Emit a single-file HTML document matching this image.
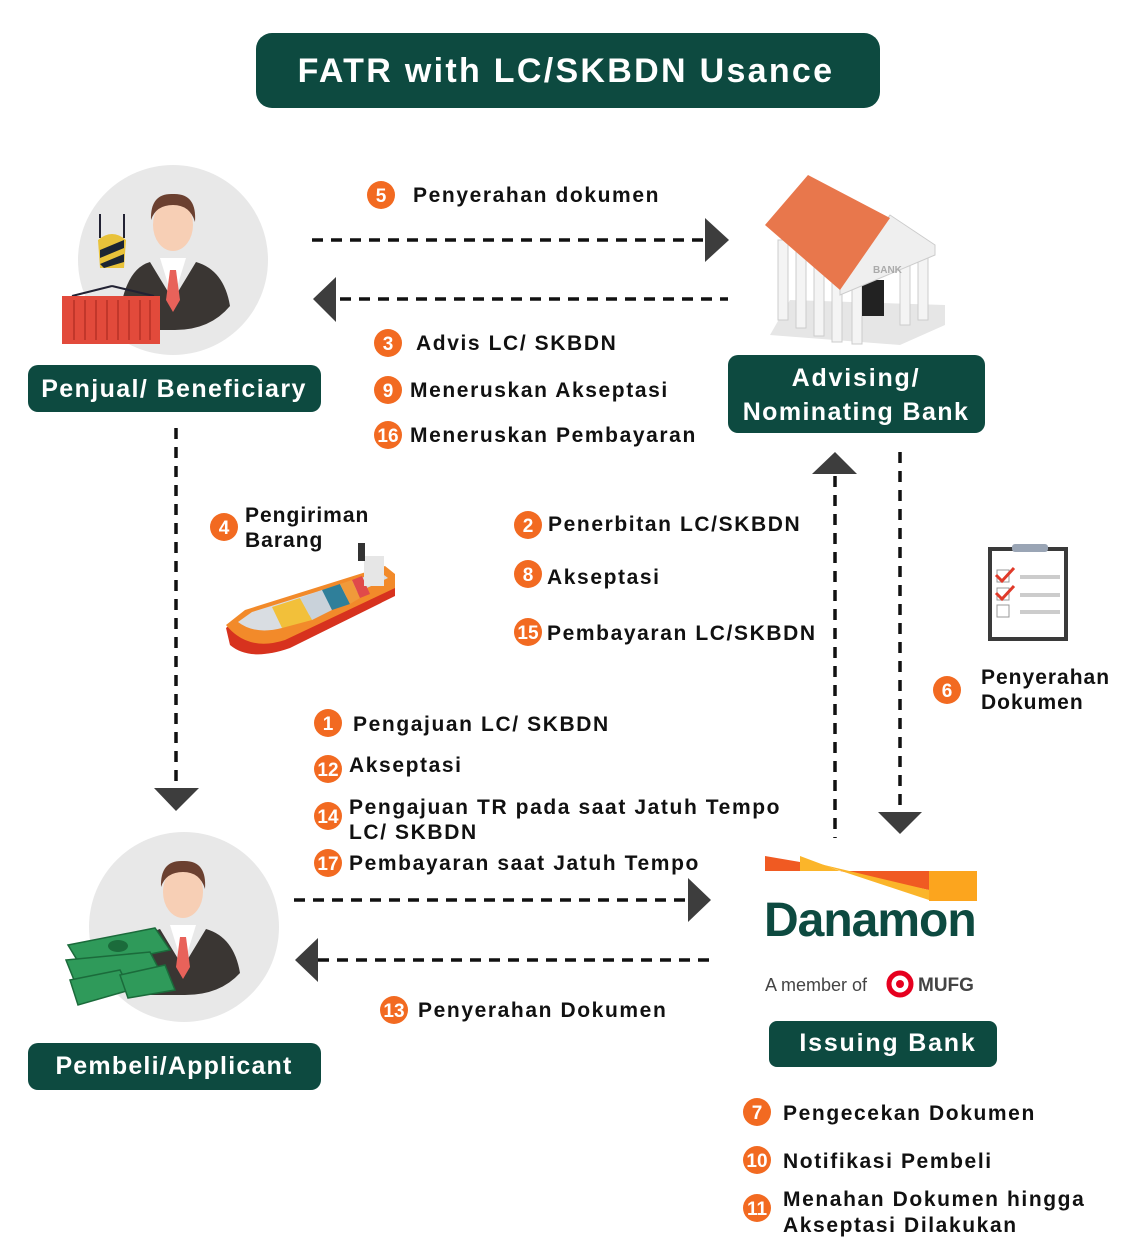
<!DOCTYPE html>
<html><head><meta charset="utf-8"><style>
html,body{margin:0;padding:0;background:#fff}
svg{display:block}
text{font-family:"Liberation Sans",sans-serif;font-weight:bold}
.t{font-size:21px;fill:#111;letter-spacing:1.6px}
.n{font-size:19px;fill:#fff;text-anchor:middle;letter-spacing:0}
.w{fill:#fff;letter-spacing:1.8px}
.d{stroke:#111;stroke-width:3.5;stroke-dasharray:11 8;fill:none}
</style></head><body>
<svg width="1146" height="1250" viewBox="0 0 1146 1250" xmlns="http://www.w3.org/2000/svg">
<rect x="256" y="33" width="624" height="75" rx="16" fill="#0d4a40"/>
<text x="566" y="82" class="w" font-size="34" text-anchor="middle" style="letter-spacing:2.3px">FATR with LC/SKBDN Usance</text>

<circle cx="173" cy="260" r="95" fill="#e8e8e8"/>
<path d="M118 330 Q122 270 150 262 L173 300 L196 262 Q224 270 230 306 Q210 330 175 330 Z" fill="#3a3633"/>
<path d="M160 258 L173 300 L186 258 Z" fill="#fff"/>
<path d="M170 270 L176 270 L180 300 L173 312 L166 300 Z" fill="#e8625a"/>
<ellipse cx="173" cy="225" rx="20" ry="26" fill="#f7cfb5"/>
<path d="M151 220 Q150 193 173 194 Q197 193 195 222 Q190 205 173 205 Q156 205 151 220Z" fill="#6b4030"/>
<line x1="100" y1="214" x2="100" y2="238" stroke="#223" stroke-width="2"/>
<line x1="124" y1="214" x2="124" y2="238" stroke="#223" stroke-width="2"/>
<path d="M98 240 Q112 228 126 240 L124 268 L100 268 Z" fill="#e8c23a"/>
<path d="M100 250 L124 240 L124 248 L100 258Z M100 264 L124 254 L124 262 L104 268Z" fill="#1b2433"/>
<line x1="72" y1="296" x2="112" y2="286" stroke="#223" stroke-width="2"/>
<line x1="112" y1="286" x2="154" y2="296" stroke="#223" stroke-width="2"/>
<rect x="62" y="296" width="98" height="48" fill="#e24a3b"/>
<g stroke="#c2372b" stroke-width="2"><line x1="74" y1="300" x2="74" y2="340"/><line x1="85" y1="300" x2="85" y2="340"/><line x1="96" y1="300" x2="96" y2="340"/><line x1="107" y1="300" x2="107" y2="340"/><line x1="118" y1="300" x2="118" y2="340"/><line x1="129" y1="300" x2="129" y2="340"/><line x1="140" y1="300" x2="140" y2="340"/><line x1="150" y1="300" x2="150" y2="340"/></g>
<rect x="28" y="365" width="293" height="47" rx="10" fill="#0d4a40"/>
<text x="174" y="397" class="w" font-size="25" text-anchor="middle" style="letter-spacing:1.4px">Penjual/ Beneficiary</text>

<line x1="312" y1="240" x2="705" y2="240" class="d"/>
<polygon points="705,218 729,240 705,262" fill="#3d3d3d"/>
<line x1="340" y1="299" x2="728" y2="299" class="d"/>
<polygon points="336,277 313,299 336,322" fill="#3d3d3d"/>
<circle cx="381" cy="195" r="14" fill="#f26a21"/><text x="381" y="202" class="n">5</text>
<text x="413" y="202" class="t">Penyerahan dokumen</text>
<circle cx="388" cy="343" r="14" fill="#f26a21"/><text x="388" y="350" class="n">3</text>
<text x="416" y="350" class="t">Advis LC/ SKBDN</text>
<circle cx="388" cy="390" r="14" fill="#f26a21"/><text x="388" y="397" class="n">9</text>
<text x="410" y="397" class="t">Meneruskan Akseptasi</text>
<circle cx="388" cy="435" r="14" fill="#f26a21"/><text x="388" y="442" class="n" font-size="17">16</text>
<text x="410" y="442" class="t">Meneruskan Pembayaran</text>

<polygon points="770,335 900,345 945,325 945,305 790,300" fill="#e6e6e6"/>
<g fill="#f4f4f4" stroke="#ccc"><rect x="778" y="240" width="10" height="80"/><rect x="796" y="248" width="10" height="80"/><rect x="814" y="256" width="10" height="80"/><rect x="832" y="262" width="10" height="80"/><rect x="852" y="268" width="10" height="76"/><rect x="900" y="255" width="10" height="70"/><rect x="918" y="250" width="10" height="70"/></g>
<rect x="862" y="280" width="22" height="36" fill="#222"/>
<polygon points="840,285 890,215 935,245 935,255 840,295" fill="#efefef" stroke="#ccc"/>
<polygon points="765,225 808,175 890,218 840,290" fill="#e8774c"/>
<text x="873" y="273" font-size="10" fill="#aaa">BANK</text>
<rect x="728" y="355" width="257" height="78" rx="10" fill="#0d4a40"/>
<text x="856" y="386" class="w" font-size="25" text-anchor="middle">Advising/</text>
<text x="856" y="420" class="w" font-size="25" text-anchor="middle" style="letter-spacing:1.4px">Nominating Bank</text>

<line x1="176" y1="428" x2="176" y2="787" class="d"/>
<polygon points="154,788 199,788 176,811" fill="#3d3d3d"/>
<line x1="835" y1="476" x2="835" y2="838" class="d"/>
<polygon points="812,474 857,474 835,452" fill="#3d3d3d"/>
<line x1="900" y1="452" x2="900" y2="812" class="d"/>
<polygon points="878,812 922,812 900,834" fill="#3d3d3d"/>

<circle cx="224" cy="527" r="14" fill="#f26a21"/><text x="224" y="534" class="n">4</text>
<text x="245" y="522" class="t" style="letter-spacing:1px">Pengiriman</text>
<text x="245" y="547" class="t" style="letter-spacing:1px">Barang</text>
<!-- ship -->
<path d="M226 628 L245 612 L385 568 L395 578 L395 596 L290 648 Q250 662 230 645Z" fill="#d7321e"/>
<path d="M226 625 L245 610 L385 566 L395 574 L395 588 L285 640 Q248 652 226 625Z" fill="#f28a2a"/>
<path d="M238 622 L252 612 L380 572 L388 578 L282 628 Q255 635 238 622Z" fill="#d9dde2"/>
<polygon points="272,607 300,598 312,620 282,628" fill="#f2c03a"/>
<polygon points="300,598 322,590 332,610 312,620" fill="#c9d2da"/>
<polygon points="322,590 340,584 350,604 332,610" fill="#2f7f9a"/>
<polygon points="340,584 352,580 360,598 350,604" fill="#f09a3a"/>
<polygon points="352,580 362,576 370,594 360,598" fill="#e04a4a"/>
<rect x="364" y="556" width="20" height="30" fill="#e6e6e6"/>
<rect x="358" y="543" width="7" height="18" fill="#333"/>

<circle cx="528" cy="525" r="14" fill="#f26a21"/><text x="528" y="532" class="n">2</text>
<text x="548" y="531" class="t">Penerbitan LC/SKBDN</text>
<circle cx="528" cy="574" r="14" fill="#f26a21"/><text x="528" y="581" class="n">8</text>
<text x="547" y="584" class="t">Akseptasi</text>
<circle cx="528" cy="632" r="14" fill="#f26a21"/><text x="528" y="639" class="n" font-size="17">15</text>
<text x="547" y="640" class="t">Pembayaran LC/SKBDN</text>

<rect x="988" y="547" width="80" height="94" fill="#3a3a3a"/>
<rect x="992" y="551" width="72" height="86" fill="#fff"/>
<rect x="1012" y="544" width="36" height="8" rx="3" fill="#9aa5b5"/>
<g stroke="#ccc" stroke-width="4"><line x1="1020" y1="577" x2="1060" y2="577"/><line x1="1020" y1="595" x2="1060" y2="595"/><line x1="1020" y1="612" x2="1060" y2="612"/></g>
<rect x="997" y="570" width="12" height="12" fill="none" stroke="#999"/><rect x="997" y="588" width="12" height="12" fill="none" stroke="#999"/><rect x="997" y="605" width="12" height="12" fill="none" stroke="#999"/>
<path d="M996 575 L1002 581 L1014 568 M996 593 L1002 599 L1014 586" stroke="#e03a2a" stroke-width="3" fill="none"/>
<circle cx="947" cy="690" r="14" fill="#f26a21"/><text x="947" y="697" class="n">6</text>
<text x="981" y="684" class="t" style="letter-spacing:1px">Penyerahan</text>
<text x="981" y="709" class="t" style="letter-spacing:1px">Dokumen</text>

<circle cx="328" cy="723" r="14" fill="#f26a21"/><text x="328" y="730" class="n">1</text>
<text x="353" y="731" class="t">Pengajuan LC/ SKBDN</text>
<circle cx="328" cy="769" r="14" fill="#f26a21"/><text x="328" y="776" class="n" font-size="17">12</text>
<text x="349" y="772" class="t">Akseptasi</text>
<circle cx="328" cy="816" r="14" fill="#f26a21"/><text x="328" y="823" class="n" font-size="17">14</text>
<text x="349" y="814" class="t">Pengajuan TR pada saat Jatuh Tempo</text>
<text x="349" y="839" class="t">LC/ SKBDN</text>
<circle cx="328" cy="863" r="14" fill="#f26a21"/><text x="328" y="870" class="n" font-size="17">17</text>
<text x="349" y="870" class="t">Pembayaran saat Jatuh Tempo</text>

<circle cx="184" cy="927" r="95" fill="#e8e8e8"/>
<path d="M128 995 Q132 937 160 929 L183 967 L206 929 Q234 937 240 973 Q220 995 185 995 Z" fill="#3a3633"/>
<path d="M170 925 L183 967 L196 925 Z" fill="#fff"/>
<path d="M180 937 L186 937 L190 967 L183 979 L176 967 Z" fill="#e8625a"/>
<ellipse cx="183" cy="892" rx="20" ry="26" fill="#f7cfb5"/>
<path d="M161 887 Q160 860 183 861 Q207 860 205 889 Q200 872 183 872 Q166 872 161 887Z" fill="#6b4030"/>
<g fill="#2f9a5a" stroke="#1b6b3b" stroke-width="1.5">
<polygon points="68,945 155,928 170,950 82,968"/>
<polygon points="66,960 150,952 162,975 76,985"/>
<polygon points="70,980 120,970 130,990 78,1005"/>
<polygon points="120,975 165,965 175,990 128,998"/>
</g>
<ellipse cx="118" cy="946" rx="10" ry="6" fill="#1b6b3b"/>
<rect x="28" y="1043" width="293" height="47" rx="10" fill="#0d4a40"/>
<text x="174" y="1074" class="w" font-size="25" text-anchor="middle" style="letter-spacing:1.2px">Pembeli/Applicant</text>

<line x1="294" y1="900" x2="688" y2="900" class="d"/>
<polygon points="688,878 711,900 688,922" fill="#3d3d3d"/>
<line x1="318" y1="960" x2="710" y2="960" class="d"/>
<polygon points="318,938 295,960 318,982" fill="#3d3d3d"/>
<circle cx="394" cy="1010" r="14" fill="#f26a21"/><text x="394" y="1017" class="n" font-size="17">13</text>
<text x="418" y="1017" class="t">Penyerahan Dokumen</text>

<polygon points="765,856 800,862 800,871 765,871" fill="#f05a22"/>
<polygon points="800,856 840,871 800,871" fill="#fbb52a"/>
<polygon points="840,871 929,871 929,890" fill="#f05a22"/>
<polygon points="820,864 929,890 929,900" fill="#fbb52a"/>
<rect x="929" y="871" width="48" height="30" fill="#fca51e"/>
<text x="764" y="936" font-size="48" fill="#0d4a40" letter-spacing="-1">Danamon</text>
<text x="765" y="991" font-size="18" fill="#444" style="font-weight:normal">A member of</text>
<circle cx="900" cy="984" r="11" fill="none" stroke="#e6001f" stroke-width="5"/><circle cx="900" cy="984" r="4" fill="#e6001f"/>
<text x="918" y="991" font-size="19" fill="#444">MUFG</text>
<rect x="769" y="1021" width="228" height="46" rx="8" fill="#0d4a40"/>
<text x="888" y="1051" class="w" font-size="25" text-anchor="middle">Issuing Bank</text>

<circle cx="757" cy="1112" r="14" fill="#f26a21"/><text x="757" y="1119" class="n">7</text>
<text x="783" y="1120" class="t">Pengecekan Dokumen</text>
<circle cx="757" cy="1160" r="14" fill="#f26a21"/><text x="757" y="1167" class="n" font-size="17">10</text>
<text x="783" y="1168" class="t">Notifikasi Pembeli</text>
<circle cx="757" cy="1208" r="14" fill="#f26a21"/><text x="757" y="1215" class="n" font-size="17">11</text>
<text x="783" y="1206" class="t">Menahan Dokumen hingga</text>
<text x="783" y="1232" class="t">Akseptasi Dilakukan</text>
</svg>
</body></html>
